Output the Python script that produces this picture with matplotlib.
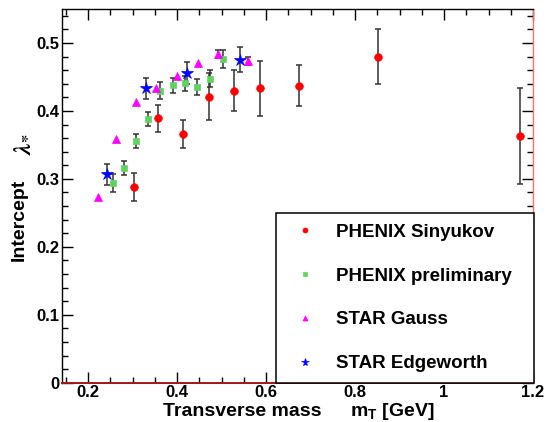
import numpy as np
import matplotlib
matplotlib.use("Agg")
import matplotlib.pyplot as plt
from matplotlib.ticker import MultipleLocator

plt.rcParams['font.family'] = ['Liberation Sans', 'DejaVu Sans']
plt.rcParams['font.weight'] = 'bold'
plt.rcParams['mathtext.fontset'] = 'custom'
plt.rcParams['mathtext.rm'] = 'Liberation Sans:bold'
plt.rcParams['mathtext.bf'] = 'Liberation Sans:bold'
plt.rcParams['mathtext.it'] = 'Liberation Sans:bold'

# PHENIX Sinyukov
sin_mt = [0.303, 0.357, 0.414, 0.471, 0.527, 0.586, 0.674, 0.851, 1.171]
sin_lam = [0.288, 0.389, 0.366, 0.421, 0.430, 0.433, 0.437, 0.480, 0.363]
sin_err = [0.020, 0.020, 0.020, 0.035, 0.030, 0.040, 0.030, 0.040, 0.070]

# PHENIX preliminary
prelim_mt = [0.2555, 0.2816, 0.308, 0.335, 0.3625, 0.390, 0.419, 0.446, 0.475, 0.504]
prelim_lam = [0.294, 0.316, 0.356, 0.388, 0.430, 0.438, 0.441, 0.435, 0.447, 0.476]
prelim_err = [0.0135, 0.010, 0.010, 0.010, 0.012, 0.011, 0.011, 0.0115, 0.0125, 0.013]

# STAR Gauss
gauss_mt = [0.2225, 0.2637, 0.308, 0.353, 0.399, 0.447, 0.492, 0.559]
gauss_lam = [0.273, 0.358, 0.413, 0.433, 0.451, 0.471, 0.484, 0.4735]
gauss_err = [0, 0, 0, 0, 0, 0, 0.006, 0.006]

# STAR Edgeworth
edge_mt = [0.2434, 0.330, 0.4225, 0.542]
edge_lam = [0.3065, 0.433, 0.456, 0.4756]
edge_err = [0.015, 0.016, 0.016, 0.018]

W, H = 546, 422
fig = plt.figure(figsize=(W / 100, H / 100), dpi=100)
ax = fig.add_axes([62 / W, 1 - 382.7 / H, (533 - 62) / W, (382.7 - 9) / H])

err_kw = dict(fmt='none', ecolor='#333333', elinewidth=1.1, capsize=2.3, capthick=1.1, zorder=2)

series = [
    (sin_mt, sin_lam, sin_err, 'o', '#ff0000', 5.5, 'PHENIX Sinyukov'),
    (prelim_mt, prelim_lam, prelim_err, 's', '#5fd35f', 5.0, 'PHENIX preliminary'),
    (gauss_mt, gauss_lam, gauss_err, '^', '#ff00ff', 5.5, 'STAR Gauss'),
    (edge_mt, edge_lam, edge_err, '*', '#0000ff', 9, 'STAR Edgeworth'),
]

handles = []
for x, y, e, m, c, ms, lab in series:
    x = np.array(x)
    y = np.array(y)
    e = np.array(e)
    keep = e > 0
    if keep.any():
        ax.errorbar(x[keep], y[keep], yerr=e[keep], **err_kw)
    h, = ax.plot(x, y, linestyle='none', marker=m, color=c, markersize=ms,
                 markeredgewidth=0.5, label=lab, zorder=3)
    handles.append(h)

ax.set_xlim(0.1415, 1.2)
ax.set_ylim(0, 0.55)
ax.xaxis.set_major_locator(MultipleLocator(0.2))
ax.xaxis.set_minor_locator(MultipleLocator(0.05))
ax.yaxis.set_major_locator(MultipleLocator(0.1))
ax.yaxis.set_minor_locator(MultipleLocator(0.02))
ax.tick_params(which='both', direction='in', top=True, right=True, labelsize=12)
ax.tick_params(which='major', length=8, width=1)
ax.tick_params(which='minor', length=4, width=1)
ax.tick_params(axis='x', pad=1.5)
ax.tick_params(axis='y', pad=2)
ax.xaxis.set_major_formatter(matplotlib.ticker.FuncFormatter(lambda v, p: '%g' % round(v, 3)))
ax.yaxis.set_major_formatter(matplotlib.ticker.FuncFormatter(lambda v, p: '%g' % round(v, 3)))

for s in ax.spines.values():
    s.set_linewidth(1)
ax.spines['bottom'].set_color('#a01818')
ax.spines['bottom'].set_linewidth(1.4)
ax.spines['right'].set_color('#ff7070')

leg = ax.legend(handles=handles, loc='lower left', bbox_to_anchor=(0.454, 0, 0.548, 0.455),
                mode='expand', borderaxespad=0, fancybox=False, edgecolor='black',
                framealpha=1, fontsize=13.5, labelspacing=1.42, handlelength=2.0,
                handletextpad=0.65, borderpad=0.56, markerscale=0.65)
leg.get_frame().set_linewidth(1.1)
leg.set_zorder(10)

fig.text(19 / W, 1 - 220 / H, 'Intercept', rotation=90, ha='center', va='center',
         fontsize=14, fontweight='bold')
fig.text(22 / W, 1 - 144 / H, r'$\lambda_{*}$', rotation=90, ha='center', va='center',
         fontsize=17, math_fontfamily='stix')
fig.text(163 / W, 1 - 411 / H, 'Transverse mass', ha='left', va='center',
         fontsize=14, fontweight='bold')
fig.text(350 / W, 1 - 411 / H, r'$\mathbf{m_T}$ [GeV]', ha='left', va='center',
         fontsize=14, fontweight='bold')

fig.savefig('out.png', dpi=100)
